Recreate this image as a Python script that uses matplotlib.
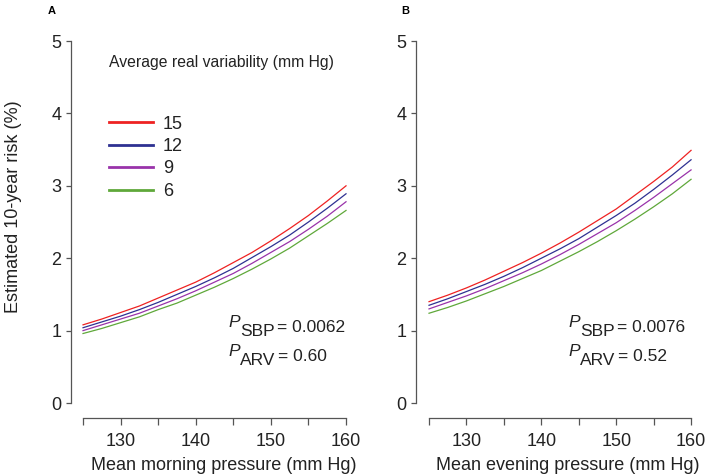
import matplotlib
matplotlib.use("Agg")
import matplotlib.pyplot as plt
from matplotlib.lines import Line2D

plt.rcParams['font.family'] = ['Liberation Sans', 'DejaVu Sans']

# ---- data ----
pressure = [125, 127.5, 130, 132.5, 135, 137.5, 140, 142.5, 145, 147.5,
            150, 152.5, 155, 157.5, 160]
variability_levels = ["15", "12", "9", "6"]

morning_15 = [1.08, 1.16, 1.25, 1.34, 1.45, 1.56, 1.67, 1.80, 1.94, 2.08,
              2.24, 2.41, 2.59, 2.79, 3.00]
morning_12 = [1.04, 1.12, 1.20, 1.29, 1.39, 1.50, 1.61, 1.73, 1.86, 2.01,
              2.16, 2.32, 2.50, 2.69, 2.89]
morning_9 = [1.00, 1.08, 1.16, 1.24, 1.34, 1.44, 1.55, 1.67, 1.79, 1.93,
             2.08, 2.23, 2.40, 2.58, 2.78]
morning_6 = [0.96, 1.03, 1.11, 1.19, 1.29, 1.38, 1.49, 1.60, 1.72, 1.85,
             1.99, 2.14, 2.31, 2.48, 2.66]

evening_15 = [1.40, 1.49, 1.59, 1.70, 1.82, 1.94, 2.07, 2.21, 2.36, 2.52,
              2.68, 2.87, 3.06, 3.26, 3.49]
evening_12 = [1.35, 1.44, 1.54, 1.64, 1.75, 1.87, 2.00, 2.13, 2.27, 2.43,
              2.59, 2.76, 2.95, 3.15, 3.36]
evening_9 = [1.30, 1.39, 1.48, 1.58, 1.69, 1.80, 1.92, 2.05, 2.19, 2.34,
             2.49, 2.66, 2.84, 3.03, 3.22]
evening_6 = [1.24, 1.32, 1.41, 1.51, 1.61, 1.72, 1.83, 1.96, 2.09, 2.23,
             2.38, 2.54, 2.71, 2.89, 3.09]

x_ticks = [130, 140, 150, 160]
x_minor = [125, 135, 145, 155]
y_ticks = [0, 1, 2, 3, 4, 5]

colors = ['#ee2222', '#2e3192', '#9933aa', '#5fa83a']

W, H = 709, 476
fig = plt.figure(figsize=(W / 100, H / 100), dpi=100)


def px_box(left, right, bottom, top):
    return [left / W, 1 - bottom / H, (right - left) / W, (bottom - top) / H]


axA = fig.add_axes(px_box(71, 350, 418, 33.8))
axB = fig.add_axes(px_box(416, 694.8, 418, 33.8))

spine_col = '#555555'
txt_col = '#222222'


def style(ax, xlim):
    ax.set_xlim(*xlim)
    ax.set_ylim(-0.207, 5.1)
    for s in ['top', 'right']:
        ax.spines[s].set_visible(False)
    ax.spines['left'].set_bounds(0, 5)
    ax.spines['bottom'].set_bounds(125, 160)
    for s in ['left', 'bottom']:
        ax.spines[s].set_color(spine_col)
        ax.spines[s].set_linewidth(0.9)
    ax.set_xticks(x_ticks)
    ax.set_xticks(x_minor, minor=True)
    ax.set_yticks(y_ticks)
    ax.tick_params(axis='both', which='both', color=spine_col, width=0.9,
                   labelsize=13, labelcolor=txt_col)
    ax.tick_params(axis='x', which='both', length=5, pad=6)
    ax.tick_params(axis='y', length=3.5, pad=3.5)


style(axA, (123.4, 160.53))
style(axB, (123.26, 160.5))

morning = [morning_15, morning_12, morning_9, morning_6]
evening = [evening_15, evening_12, evening_9, evening_6]
for vals, c in zip(morning, colors):
    axA.plot(pressure, vals, color=c, lw=0.9)
for vals, c in zip(evening, colors):
    axB.plot(pressure, vals, color=c, lw=0.9)

# legend
handles = [Line2D([], [], color=c, lw=2) for c in colors]
leg = axA.legend(handles, variability_levels, loc='upper left',
                 bbox_to_anchor=(0.136, 0.787), frameon=False, fontsize=13,
                 handlelength=2.45, handletextpad=0.55, labelspacing=0.3,
                 borderaxespad=0, borderpad=0)
for t in leg.get_texts():
    t.set_color(txt_col)


def fx(px):
    return px / W


def fy(py):
    return 1 - py / H


fig.text(fx(109), fy(62), 'Average real variability (mm Hg)', fontsize=11.3,
         ha='left', va='center', color=txt_col)

# P-values


def pvals(ax, x0, y0, sub, val):
    t1 = ax.text(x0, y0, 'P', style='italic', fontsize=12.5, va='baseline',
                 ha='left', transform=fig.transFigure, color=txt_col)
    t2 = ax.annotate(sub, xy=(1, 0), xycoords=t1, xytext=(0.3, -6.5),
                     textcoords='offset points', va='bottom', ha='left',
                     fontsize=12.5, color=txt_col)
    ax.annotate('= ' + val, xy=(1, 0), xycoords=t2, xytext=(2.0, 3.0),
                textcoords='offset points', va='bottom', ha='left',
                fontsize=12.5, color=txt_col)


pvals(axA, fx(228), fy(327), 'SBP', '0.0062')
pvals(axA, fx(228), fy(356), 'ARV', '0.60')
pvals(axB, fx(568), fy(327), 'SBP', '0.0076')
pvals(axB, fx(568), fy(356), 'ARV', '0.52')

# axis labels
fig.text(fx(224), fy(465), 'Mean morning pressure (mm Hg)', fontsize=13,
         ha='center', va='center', color=txt_col)
fig.text(fx(568), fy(465), 'Mean evening pressure (mm Hg)', fontsize=13,
         ha='center', va='center', color=txt_col)
fig.text(fx(14), fy(207), 'Estimated 10-year risk (%)', fontsize=13,
         ha='center', va='center', rotation=90, color=txt_col)

# panel letters
fig.text(fx(48), fy(11), 'A', fontsize=8, fontweight='bold', ha='left',
         va='center')
fig.text(fx(401), fy(11), 'B', fontsize=8, fontweight='bold', ha='left',
         va='center')

fig.savefig('out.png', dpi=100)
